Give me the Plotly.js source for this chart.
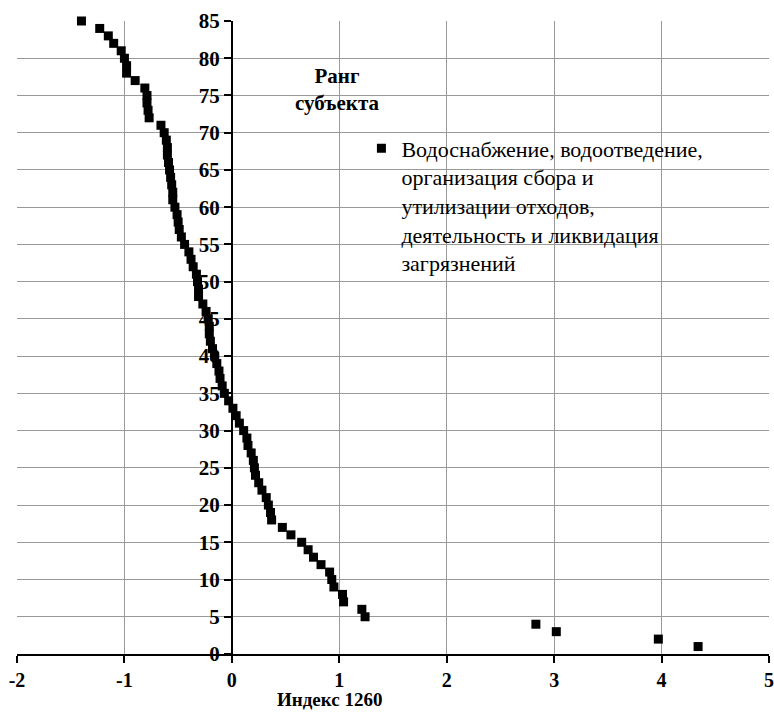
<!DOCTYPE html>
<html>
<head>
<meta charset="utf-8">
<script src="https://cdn.plot.ly/plotly-3.0.1.min.js"></script>
<style>html,body{margin:0;padding:0;background:#fff;}#chart{width:774px;height:712px;}</style>
</head>
<body>
<div id="chart"></div>
<script>
const seriesName = "Водоснабжение, водоотведение,<br>организация сбора и<br>утилизации отходов,<br>деятельность и ликвидация<br>загрязнений";
const xTitle = "Индекс 1260";
const yTitle = "Ранг<br>субъекта";

const rank = [1,2,3,4,5,6,7,8,9,10,11,12,13,14,15,16,17,18,19,20,
  21,22,23,24,25,26,27,28,29,30,31,32,33,34,35,36,37,38,39,40,
  41,42,43,44,45,46,47,48,49,50,51,52,53,54,55,56,57,58,59,60,
  61,62,63,64,65,66,67,68,69,70,71,72,73,74,75,76,77,78,79,80,
  81,82,83,84,85];

const index1260 = [4.34,3.97,3.02,2.83,1.24,1.21,1.04,1.03,0.95,0.93,
  0.91,0.83,0.76,0.71,0.65,0.55,0.47,0.37,0.36,0.34,
  0.32,0.28,0.25,0.22,0.21,0.20,0.18,0.15,0.14,0.11,
  0.07,0.04,0.01,-0.03,-0.07,-0.09,-0.11,-0.12,-0.14,-0.16,
  -0.18,-0.20,-0.21,-0.21,-0.22,-0.24,-0.27,-0.31,-0.31,-0.32,
  -0.33,-0.36,-0.38,-0.40,-0.44,-0.47,-0.49,-0.50,-0.51,-0.53,
  -0.55,-0.55,-0.56,-0.57,-0.58,-0.59,-0.60,-0.60,-0.61,-0.63,
  -0.66,-0.77,-0.78,-0.79,-0.79,-0.81,-0.90,-0.98,-0.98,-1.00,
  -1.03,-1.10,-1.15,-1.23,-1.40];

const xTicks = [-2,-1,0,1,2,3,4,5];
const yTicks = [0,5,10,15,20,25,30,35,40,45,50,55,60,65,70,75,80,85];

const serif = 'Liberation Serif';

const trace = {
  x: index1260, y: rank, type: 'scatter', mode: 'markers',
  name: seriesName, cliponaxis: false,
  marker: {symbol: 'square', size: 9, color: '#000'}
};

const xmin = xTicks[0], xmax = xTicks[xTicks.length-1];
const layout = {
  width: 774, height: 712,
  margin: {l: 17, r: 5, t: 21, b: 58, pad: 0},
  paper_bgcolor: '#fff', plot_bgcolor: '#fff',
  showlegend: true,
  legend: {x: 0.458, y: 0.832, xanchor: 'left', yanchor: 'top', valign: 'top',
    font: {family: serif, size: 22, color: '#000'}, bgcolor: 'rgba(0,0,0,0)',
    itemwidth: 30},
  xaxis: {
    range: [xmin, xmax], tickvals: xTicks, ticktext: xTicks.map(String),
    showgrid: true, gridcolor: '#999', gridwidth: 1,
    zeroline: false, showline: true, linecolor: '#000', linewidth: 2,
    ticks: 'outside', ticklen: 7, tickwidth: 2, tickcolor: '#000',
    ticklabeloverflow: 'allow',
    tickfont: {family: serif, size: 20, color: '#000', weight: 'bold'},
    fixedrange: true
  },
  yaxis: {
    range: [0, 85], tickvals: yTicks, ticktext: yTicks.map(String),
    anchor: 'free', position: (0 - xmin) / (xmax - xmin), side: 'left',
    showgrid: true, gridcolor: '#999', gridwidth: 1,
    zeroline: false, showline: true, linecolor: '#000', linewidth: 2,
    ticks: 'outside', ticklen: 7, tickwidth: 2, tickcolor: '#000',
    tickfont: {family: serif, size: 21, color: '#000', weight: 'bold'},
    fixedrange: true
  },
  annotations: [
    {text: '<b>' + yTitle + '</b>', xref: 'paper', yref: 'paper', x: 0.426, y: 0.892,
     xanchor: 'center', yanchor: 'middle', showarrow: false, align: 'center',
     font: {family: serif, size: 21, color: '#000'}},
    {text: '<b>' + xTitle + '</b>', xref: 'paper', yref: 'paper', x: 0.416, y: -0.0916,
     xanchor: 'center', yanchor: 'bottom', showarrow: false,
     font: {family: serif, size: 19, color: '#000'}}
  ]
};

Plotly.newPlot('chart', [trace], layout, {displayModeBar: false, staticPlot: true});
</script>
</body>
</html>
